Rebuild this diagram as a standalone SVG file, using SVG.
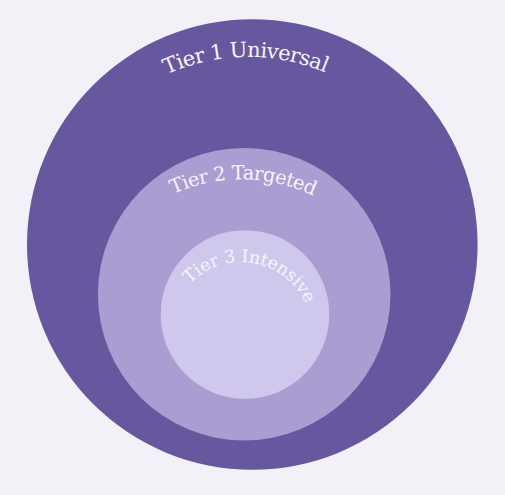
<svg xmlns="http://www.w3.org/2000/svg" width="505" height="495" viewBox="0 0 505 495">
<defs>
<style>
.lbl{font-family:"DejaVu Serif","Liberation Serif",serif;fill:#f6f4fc;text-anchor:middle}
</style>
<path id="arc1" d="M 50.4,254.5 A 197.6 197.6 0 0 1 445.6,254.5"/>
<path id="arc2" d="M 76.8,344 A 164.7 164.7 0 0 1 406.2,344"/>
<path id="arc3" d="M 170,333 A 71 71 0 0 1 312,333"/>
</defs>
<rect width="505" height="495" fill="#f2f1f7"/>
<g id="tier1">
<circle cx="252.3" cy="244.5" r="225.3" fill="#67579e"/>
<text class="lbl" font-size="21" letter-spacing="-0.6"><textPath href="#arc1" startOffset="49.6%">Tier 1 Universal</textPath></text>
</g>
<g id="tier2">
<circle cx="244.2" cy="294.2" r="146.3" fill="#a99dd1"/>
<text class="lbl" font-size="19.5" letter-spacing="-0.6"><textPath href="#arc2" startOffset="50.3%">Tier 2 Targeted</textPath></text>
</g>
<g id="tier3">
<circle cx="245" cy="314.5" r="84.3" fill="#d0c8ec"/>
<text class="lbl" font-size="17.5" letter-spacing="-0.1"><textPath href="#arc3" startOffset="55.4%">Tier 3 Intensive</textPath></text>
</g>
<g id="connectors"/>
</svg>
